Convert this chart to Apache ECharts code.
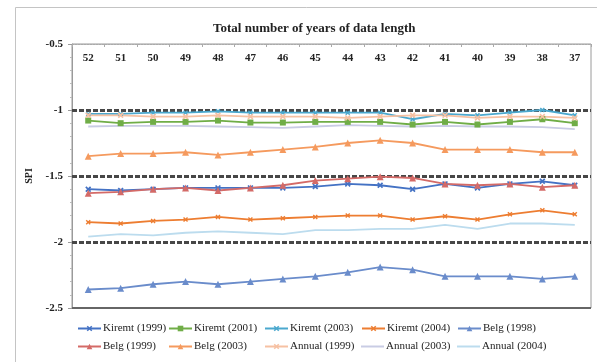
<!DOCTYPE html>
<html>
<head>
<meta charset="utf-8">
<script src="https://cdn.jsdelivr.net/npm/echarts@6/dist/echarts.min.js"></script>
<style>
  html, body { margin: 0; padding: 0; background: #fff; }
  #chart { width: 597px; height: 362px; }
</style>
</head>
<body>
<div id="chart"></div>
<script>
// Number of years of record used for each SPI estimate
const categories = ['52','51','50','49','48','47','46','45','44','43','42','41','40','39','38','37'];

// SPI values per season / drought year
const kiremt1999 = [-1.60,-1.61,-1.60,-1.59,-1.59,-1.59,-1.59,-1.58,-1.56,-1.57,-1.60,-1.56,-1.59,-1.56,-1.54,-1.57];
const kiremt2001 = [-1.08,-1.10,-1.09,-1.09,-1.08,-1.095,-1.095,-1.09,-1.09,-1.09,-1.11,-1.09,-1.11,-1.09,-1.07,-1.10];
const kiremt2003 = [-1.03,-1.03,-1.02,-1.02,-1.01,-1.02,-1.02,-1.02,-1.02,-1.02,-1.07,-1.03,-1.04,-1.02,-1.00,-1.04];
const kiremt2004 = [-1.85,-1.86,-1.84,-1.83,-1.81,-1.83,-1.82,-1.81,-1.80,-1.80,-1.83,-1.805,-1.83,-1.79,-1.76,-1.79];
const belg1998   = [-2.36,-2.35,-2.32,-2.30,-2.32,-2.30,-2.28,-2.26,-2.23,-2.19,-2.21,-2.26,-2.26,-2.26,-2.28,-2.26];
const belg1999   = [-1.63,-1.62,-1.60,-1.59,-1.61,-1.59,-1.57,-1.535,-1.52,-1.505,-1.515,-1.56,-1.57,-1.56,-1.585,-1.57];
const belg2003   = [-1.35,-1.33,-1.33,-1.32,-1.34,-1.32,-1.30,-1.28,-1.25,-1.23,-1.25,-1.30,-1.30,-1.30,-1.32,-1.32];
const annual1999 = [-1.04,-1.04,-1.05,-1.05,-1.04,-1.05,-1.05,-1.05,-1.06,-1.05,-1.04,-1.04,-1.06,-1.05,-1.05,-1.06];
const annual2003 = [-1.125,-1.12,-1.12,-1.12,-1.125,-1.13,-1.135,-1.125,-1.115,-1.12,-1.125,-1.12,-1.125,-1.125,-1.13,-1.145];
const annual2004 = [-1.96,-1.94,-1.95,-1.93,-1.92,-1.93,-1.94,-1.91,-1.91,-1.90,-1.90,-1.87,-1.90,-1.86,-1.86,-1.87];

// Drought class thresholds drawn as dashed reference lines
const thresholds = [-1, -1.5, -2];

const SERIF = '"Liberation Serif", "DejaVu Serif", serif';
const CROSS = 'path://M0,2L2,0L5,3L8,0L10,2L7,5L10,8L8,10L5,7L2,10L0,8L3,5Z';

const seriesDefs = [
  { name: 'Kiremt (1999)', data: kiremt1999, color: '#4472C4', symbol: CROSS, size: 6 },
  { name: 'Kiremt (2001)', data: kiremt2001, color: '#70AD47', symbol: 'rect', size: 6 },
  { name: 'Kiremt (2003)', data: kiremt2003, color: '#4BA8CE', symbol: CROSS, size: 5 },
  { name: 'Kiremt (2004)', data: kiremt2004, color: '#ED7D31', symbol: CROSS, size: 5 },
  { name: 'Belg (1998)',   data: belg1998,   color: '#6A8CCB', symbol: 'triangle', size: 7 },
  { name: 'Belg (1999)',   data: belg1999,   color: '#D46A67', symbol: 'triangle', size: 7 },
  { name: 'Belg (2003)',   data: belg2003,   color: '#F59A5E', symbol: 'triangle', size: 7 },
  { name: 'Annual (1999)', data: annual1999, color: '#F6C1A3', symbol: CROSS, size: 6 },
  { name: 'Annual (2003)', data: annual2003, color: '#C9CCE4', symbol: 'none', size: 0 },
  { name: 'Annual (2004)', data: annual2004, color: '#BCDCEE', symbol: 'none', size: 0 }
];

const series = seriesDefs.map((d, i) => ({
  name: d.name,
  type: 'line',
  data: d.data,
  symbol: d.symbol,
  symbolSize: d.size,
  showSymbol: d.symbol !== 'none',
  lineStyle: { color: d.color, width: 1.8 },
  itemStyle: { color: d.color },
  emphasis: { disabled: true },
  z: 3
}));

// reference lines attached to the first series
series[0].markLine = {
  silent: true,
  symbol: 'none',
  label: { show: false },
  lineStyle: { color: '#474747', type: [5, 2], width: 3 },
  data: thresholds.map(v => ({ yAxis: v })),
  z: 2
};
series[1].markLine = {
  silent: true,
  symbol: 'none',
  label: { show: false },
  lineStyle: { color: '#666', type: 'solid', width: 2 },
  data: [{ yAxis: -2.5 }]
};

// legend laid out as a 5 x 2 grid
const colX = [77, 168, 264, 361, 457];
const rowY = [323, 341];
const legends = seriesDefs.map((d, i) => {
  const plain = d.symbol === 'none';
  return {
    data: [plain ? { name: d.name, icon: 'rect' } : d.name],
    left: colX[i % 5],
    top: rowY[Math.floor(i / 5)],
    itemWidth: 23,
    itemHeight: plain ? 2 : 7,
    padding: 0,
    textStyle: { fontFamily: SERIF, fontSize: 11, color: '#222', padding: [0, 0, 0, -3] },
    selectedMode: false
  };
});

const chart = echarts.init(document.getElementById('chart'), null, { renderer: 'canvas' });
chart.setOption({
  animation: false,
  backgroundColor: '#fff',
  title: {
    text: 'Total number of years of data length',
    left: 208,
    top: 17,
    textStyle: { fontFamily: SERIF, fontSize: 13, fontWeight: 'bold', color: '#222' }
  },
  graphic: [{
    type: 'rect',
    shape: { x: 15.5, y: 7.5, width: 600, height: 380 },
    style: { fill: 'none', stroke: '#c4c4c4', lineWidth: 1 },
    silent: true
  }],
  legend: legends,
  grid: {
    left: 72, right: 6, top: 44, bottom: 54,
    show: true, borderColor: '#9a9a9a', borderWidth: 1
  },
  xAxis: {
    type: 'category',
    position: 'top',
    data: categories,
    boundaryGap: true,
    axisLine: { show: true, lineStyle: { color: '#aaa', type: [2, 1] } },
    axisTick: { show: true, inside: true, length: 3, lineStyle: { color: '#aaa' } },
    axisLabel: { inside: true, margin: 9, fontFamily: SERIF, fontSize: 11, fontWeight: 'bold', color: '#222' },
    splitLine: { show: false }
  },
  yAxis: {
    type: 'value',
    min: -2.5, max: -0.5, interval: 0.5,
    name: 'SPI',
    nameLocation: 'middle',
    nameGap: 28,
    nameRotate: 90,
    nameTextStyle: { fontFamily: SERIF, fontSize: 10, fontWeight: 'bold', color: '#222' },
    axisLine: { show: true, lineStyle: { color: '#9a9a9a' } },
    axisTick: { show: true, length: 4, lineStyle: { color: '#9a9a9a' } },
    minorTick: { show: true, splitNumber: 5, length: 2, lineStyle: { color: '#bbb' } },
    axisLabel: { margin: 9, fontFamily: SERIF, fontSize: 11, fontWeight: 'bold', color: '#222' },
    splitLine: { show: false }
  },
  series: series
});
</script>
</body>
</html>
